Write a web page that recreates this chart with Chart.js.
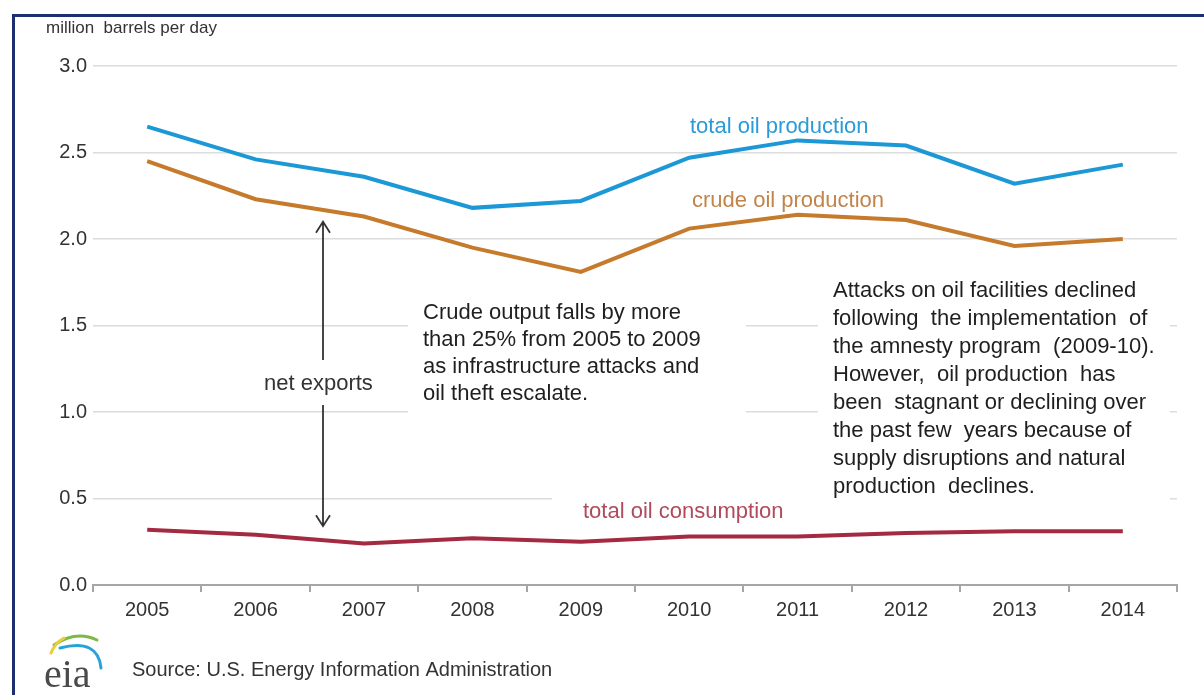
<!DOCTYPE html>
<html>
<head>
<meta charset="utf-8">
<script src="https://cdn.jsdelivr.net/npm/chart.js@4/dist/chart.umd.min.js"></script>
<style>
  html, body { margin: 0; padding: 0; background: #fff; }
  #wrap { position: relative; width: 1204px; height: 695px; }
</style>
</head>
<body>
<div id="wrap"><canvas id="oilChart"></canvas></div>
<script>
    // Nigeria oil production vs consumption, million barrels per day
    const years = ['2005', '2006', '2007', '2008', '2009', '2010', '2011', '2012', '2013', '2014'];
    const totalProduction = [2.65, 2.46, 2.36, 2.18, 2.22, 2.47, 2.57, 2.54, 2.32, 2.43];
    const crudeProduction = [2.45, 2.23, 2.13, 1.95, 1.81, 2.06, 2.14, 2.11, 1.96, 2.00];
    const totalConsumption = [0.32, 0.29, 0.24, 0.27, 0.25, 0.28, 0.28, 0.30, 0.31, 0.31];

    const unitLabel = 'million  barrels per day';
    const sourceText = 'Source: U.S. Energy Information Administration';
    const leftNote = ['Crude output falls by more', 'than 25% from 2005 to 2009', 'as infrastructure attacks and', 'oil theft escalate.'];
    const rightNote = ['Attacks on oil facilities declined', 'following  the implementation  of', 'the amnesty program  (2009-10).',
        'However,  oil production  has', 'been  stagnant or declining over', 'the past few  years because of',
        'supply disruptions and natural', 'production  declines.'];

    const FONT = '"Liberation Sans", Arial, sans-serif';

    // extra drawing: frame, text boxes, labels, arrows, logo
    const decorations = {
        id: 'decorations',
        beforeDatasetsDraw(chart) {
            const ctx = chart.ctx;
            ctx.save();
            ctx.fillStyle = '#fff';
            ctx.fillRect(408, 292, 338, 122);   // left note box
            ctx.fillRect(818, 272, 352, 232);   // right note box
            ctx.fillRect(552, 492, 266, 28);    // consumption label box
            ctx.restore();
        },
        afterDraw(chart) {
            const ctx = chart.ctx;
            const y = chart.scales.y;
            ctx.save();

            // frame
            ctx.fillStyle = '#1d2f6e';
            ctx.fillRect(12, 14, 1192, 3);
            ctx.fillRect(12, 14, 3, 681);

            ctx.textBaseline = 'middle';
            ctx.fillStyle = '#333';
            ctx.font = '17px ' + FONT;
            ctx.fillText(unitLabel, 46, 28);

            // series labels
            ctx.font = '22px ' + FONT;
            ctx.fillStyle = '#2a9bd6';
            ctx.fillText('total oil production', 690, 127);
            ctx.fillStyle = '#c2844a';
            ctx.fillText('crude oil production', 692, 201);
            ctx.fillStyle = '#b04a5c';
            ctx.fillText('total oil consumption', 583, 512);

            // notes
            ctx.fillStyle = '#1f1f1f';
            leftNote.forEach((t, i) => ctx.fillText(t, 423, 313 + i * 27));
            rightNote.forEach((t, i) => ctx.fillText(t, 833, 291 + i * 28));
            ctx.fillStyle = '#333';
            ctx.fillText('net exports', 264, 384);

            // net exports arrow
            ctx.strokeStyle = '#333';
            ctx.lineWidth = 1.8;
            const ax = 323;
            const top = y.getPixelForValue(2.1);
            const bot = y.getPixelForValue(0.34);
            ctx.beginPath();
            ctx.moveTo(ax, top); ctx.lineTo(ax, 360);
            ctx.moveTo(ax - 7, top + 11); ctx.lineTo(ax, top); ctx.lineTo(ax + 7, top + 11);
            ctx.moveTo(ax, 405); ctx.lineTo(ax, bot);
            ctx.moveTo(ax - 7, bot - 11); ctx.lineTo(ax, bot); ctx.lineTo(ax + 7, bot - 11);
            ctx.stroke();

            // source + eia logo
            ctx.font = '20px ' + FONT;
            ctx.fillStyle = '#333';
            ctx.fillText(sourceText, 132, 670);

            ctx.lineCap = 'round';
            ctx.lineWidth = 3;
            ctx.strokeStyle = '#7cb84a';
            ctx.beginPath(); ctx.moveTo(54, 645); ctx.quadraticCurveTo(76, 630, 97, 640); ctx.stroke();
            ctx.strokeStyle = '#e9cf3a';
            ctx.beginPath(); ctx.moveTo(51, 653); ctx.quadraticCurveTo(55, 643, 64, 638); ctx.stroke();
            ctx.strokeStyle = '#29a2da';
            ctx.beginPath(); ctx.moveTo(60, 648); ctx.quadraticCurveTo(98, 638, 101, 668); ctx.stroke();

            ctx.font = '40px "Liberation Serif", "DejaVu Serif", serif';
            ctx.fillStyle = '#4a4a4a';
            ctx.textBaseline = 'alphabetic';
            ctx.fillText('eia', 44, 687);
            ctx.restore();
        }
    };

    const ctx = document.getElementById('oilChart').getContext('2d');
    const chart = new Chart(ctx, {
        type: 'line',
        data: {
            labels: years,
            datasets: [
                { label: 'total oil production', data: totalProduction, borderColor: '#1b98d5', borderWidth: 4 },
                { label: 'crude oil production', data: crudeProduction, borderColor: '#c57a2c', borderWidth: 4 },
                { label: 'total oil consumption', data: totalConsumption, borderColor: '#a32a40', borderWidth: 4 }
            ]
        },
        options: {
            responsive: true,
            maintainAspectRatio: false,
            animation: false,
            events: [],
            elements: { point: { radius: 0 }, line: { tension: 0 } },
            layout: { padding: { left: 0, top: 66, right: 27, bottom: 0 } },
            plugins: { legend: { display: false }, tooltip: { enabled: false } },
            scales: {
                x: {
                    offset: true,
                    grid: { offset: true, drawOnChartArea: false, drawTicks: true, tickLength: 7, tickColor: '#a6a6a6', lineWidth: 2 },
                    border: { display: true, color: '#a6a6a6', width: 2 },
                    ticks: { color: '#333', padding: 6, font: { family: FONT, size: 20 }, maxRotation: 0 },
                    afterFit(scale) { scale.height = 110; }
                },
                y: {
                    min: 0,
                    max: 3,
                    grid: { color: '#dcdcdc', lineWidth: 1.5, drawTicks: false },
                    border: { display: false },
                    ticks: {
                        stepSize: 0.5,
                        color: '#333',
                        padding: 6,
                        font: { family: FONT, size: 20 },
                        callback: v => v.toFixed(1)
                    },
                    afterFit(scale) { scale.width = 93; }
                }
            }
        },
        plugins: [decorations]
    });
</script>
</body>
</html>
